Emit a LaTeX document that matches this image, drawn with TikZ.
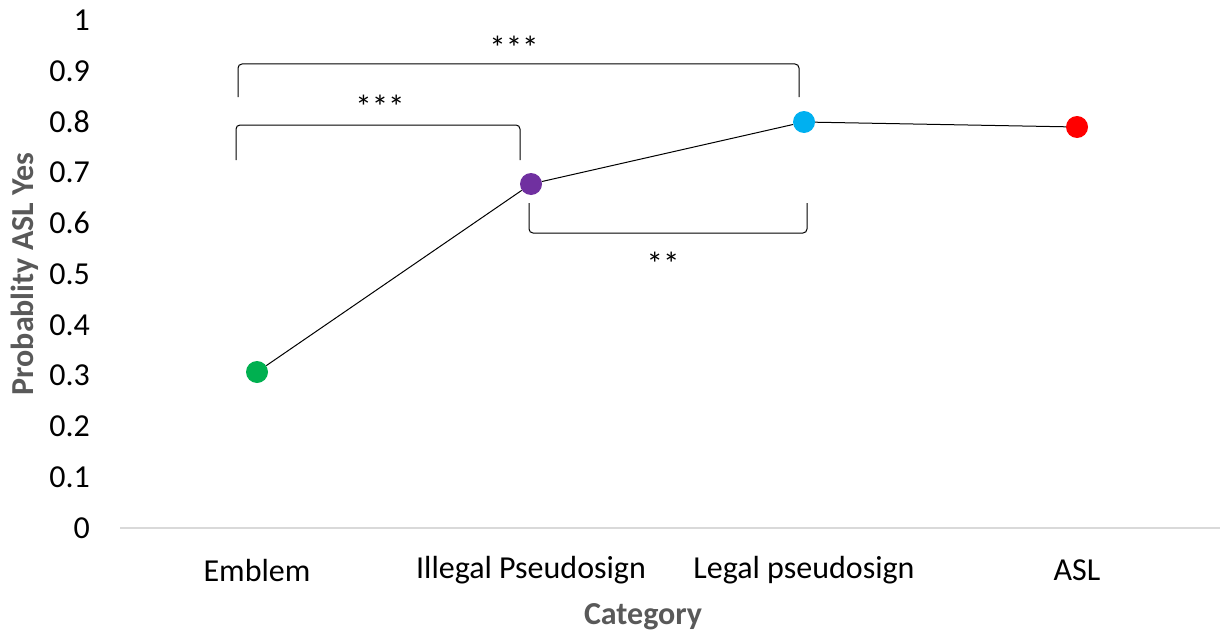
\documentclass[tikz,border=0pt]{standalone}
\usepackage{fontspec}
\setmainfont{Carlito}
\definecolor{axgray}{HTML}{D9D9D9}
\definecolor{titlegray}{HTML}{595959}
\definecolor{pgreen}{HTML}{00B050}
\definecolor{ppurple}{HTML}{7030A0}
\definecolor{pcyan}{HTML}{00B0F0}
\definecolor{pred}{HTML}{FF0000}
\begin{document}
\begin{tikzpicture}[x=1pt,y=-1pt,
  ticklab/.style={anchor=east,font=\fontsize{32}{35}\selectfont,inner sep=0pt},
  catlab/.style={anchor=center,font=\fontsize{32}{35}\selectfont,inner sep=0pt},
  axtitle/.style={font=\fontsize{32}{35}\selectfont\bfseries,text=titlegray,inner sep=0pt},
  star/.style={font=\fontsize{33}{35}\selectfont,inner sep=0pt},
  dot/.style={circle,minimum size=22pt,inner sep=0pt},
  bracket/.style={draw=black,line width=1pt,rounded corners=4pt}]
\useasboundingbox (0,0) rectangle (1220,634);
\fill[white] (0,0) rectangle (1220,634);
% axis
\coordinate (axl) at (120,528);
\coordinate (axr) at (1220,528);
\draw[axgray,line width=1.2pt] (axl) -- (axr);
% tick labels
\foreach \v/\t in {0/0,1/0.1,2/0.2,3/0.3,4/0.4,5/0.5,6/0.6,7/0.7,8/0.8,9/0.9,10/1}{
  \node[ticklab] (t\v) at (90,{528-50.8*\v}) {\t};
}
% titles
\node[axtitle,rotate=90] (ytitle) at (25,274) {Probablity ASL Yes};
\node[axtitle] (xtitle) at (643,617) {Category};
% category labels
\node[catlab] (c1) at (257,570) {Emblem};
\node[catlab] (c2) at (531,570) {Illegal Pseudosign};
\node[catlab] (c3) at (804,570) {Legal pseudosign};
\node[catlab] (c4) at (1077,570) {ASL};
% data points
\node[dot,fill=pgreen] (p1) at (257,372) {};
\node[dot,fill=ppurple] (p2) at (531,184) {};
\node[dot,fill=pcyan] (p3) at (804,122) {};
\node[dot,fill=pred] (p4) at (1077,127) {};
\draw[black,line width=1pt] (p1) -- (p2) -- (p3) -- (p4);
% brackets
\coordinate (b1a) at (238,97);
\coordinate (b1b) at (799,97);
\draw[bracket] (b1a) -- (238,64) -- (799,64) -- (b1b);
\node[star] (s1) at (514,48) {***};
\coordinate (b2a) at (236,160);
\coordinate (b2b) at (520,160);
\draw[bracket] (b2a) -- (236,125) -- (520,125) -- (b2b);
\node[star] (s2) at (380,107) {***};
\coordinate (b3a) at (529,203);
\coordinate (b3b) at (807,203);
\draw[bracket] (b3a) -- (529,233) -- (807,233) -- (b3b);
\node[star] (s3) at (663,264) {**};
\end{tikzpicture}
\end{document}
